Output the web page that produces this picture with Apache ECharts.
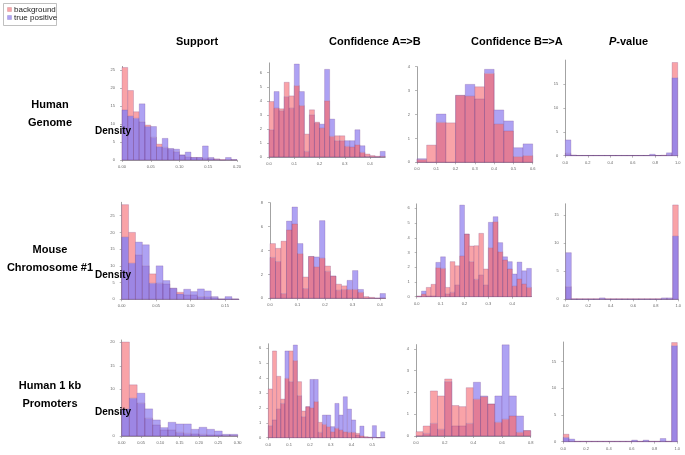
<!DOCTYPE html>
<html><head><meta charset="utf-8">
<script src="https://cdn.jsdelivr.net/npm/echarts@6/dist/echarts.min.js"></script>
<style>html,body{margin:0;padding:0;background:#fff}#c{width:685px;height:455px}</style>
</head><body><div id="c"></div>
<script>
// ---------- labels ----------
const columnTitles = ['Support', 'Confidence A=>B', 'Confidence B=>A', 'P-value'];
const rowTitles = [['Human', 'Genome'], ['Mouse', 'Chromosome #1'], ['Human 1 kb', 'Promoters']];
const seriesNames = ['background', 'true positive'];
const yAxisName = 'Density';

// ---------- data (density per bin) ----------
// Row 1: Human Genome
const hgSupportBin = 0.01;
const hgSupportBg = [25.7, 19.3, 13.4, 10.6, 9.7, 6.3, 4.4, 3.5, 3.0, 2.3, 1.4, 0.9, 0.7, 0.7, 0.5, 0.4, 0.3, 0.1, 0.1, 0.1];
const hgSupportTp = [13.9, 12.2, 11.6, 15.6, 9.3, 9.3, 3.7, 6.0, 3.2, 3.0, 1.4, 2.2, 0.7, 0.7, 3.9, 0.7, 0.2, 0.0, 0.7, 0.1];
const hgConfABBin = 0.02;
const hgConfABBg = [3.95, 3.48, 3.43, 5.32, 4.35, 5.08, 3.66, 1.63, 3.36, 2.48, 2.06, 4.00, 1.47, 1.51, 1.51, 0.76, 0.71, 0.87, 0.33, 0.21, 0.10, 0.05, 0.05];
const hgConfABTp = [1.94, 4.66, 3.30, 4.30, 3.48, 6.62, 4.66, 0.40, 3.00, 2.41, 2.34, 6.24, 2.70, 1.16, 1.16, 1.16, 1.16, 1.94, 0.80, 0.05, 0.00, 0.00, 0.40];
const hgConfBABin = 0.05;
const hgConfBABg = [0.12, 0.72, 1.67, 1.65, 2.80, 2.77, 3.16, 3.72, 1.60, 1.31, 0.24, 0.28];
const hgConfBATp = [0.15, 0.00, 2.02, 0.00, 2.80, 3.26, 2.65, 3.89, 2.19, 1.73, 0.61, 0.77];
const hgPvalBin = 0.05;
const hgPvalBg = [0.5, 0.1, 0.05, 0.05, 0.05, 0.05, 0.05, 0.05, 0.05, 0.05, 0.05, 0.05, 0.05, 0.05, 0.05, 0.05, 0.05, 0.1, 0.2, 19.5];
const hgPvalTp = [3.3, 0.1, 0.05, 0.05, 0.05, 0.05, 0.05, 0.05, 0.05, 0.05, 0.05, 0.05, 0.05, 0.05, 0.05, 0.3, 0.05, 0.05, 0.6, 16.3];

// Row 2: Mouse Chromosome #1
const mcSupportBin = 0.01;
const mcSupportBg = [28.3, 20.0, 13.3, 10.0, 7.6, 4.8, 4.6, 3.3, 2.1, 1.3, 1.3, 0.8, 0.8, 0.5, 0.1, 0.0, 0.1];
const mcSupportTp = [18.6, 10.8, 17.1, 16.3, 4.8, 10.0, 5.6, 3.3, 1.6, 3.0, 2.3, 3.1, 2.5, 0.8, 0.1, 0.8, 0.1];
const mcConfABBin = 0.02;
const mcConfABBg = [4.58, 4.18, 4.78, 5.72, 6.22, 3.74, 1.78, 3.50, 2.64, 3.36, 2.70, 1.86, 1.18, 1.04, 0.74, 0.74, 0.50, 0.14, 0.08, 0.02, 0.02];
const mcConfABTp = [3.42, 3.08, 0.40, 6.46, 7.64, 4.58, 0.82, 3.50, 3.46, 6.50, 2.26, 1.86, 0.68, 0.74, 1.50, 2.32, 0.74, 0.00, 0.00, 0.00, 0.40];
const mcConfBABin = 0.02;
const mcConfBABg = [0.05, 0.18, 0.63, 0.84, 1.97, 1.92, 0.63, 2.38, 2.10, 2.76, 4.25, 3.44, 3.46, 4.30, 1.88, 3.33, 5.09, 3.05, 2.49, 1.88, 0.72, 1.20, 0.86, 0.63];
const mcConfBATp = [0.00, 0.38, 0.05, 0.05, 2.33, 2.71, 0.20, 0.30, 0.79, 6.22, 4.25, 2.38, 1.18, 1.47, 0.79, 5.05, 5.43, 3.67, 2.71, 2.38, 1.54, 2.35, 1.76, 1.92];
const mcPvalBin = 0.05;
const mcPvalBg = [2.25, 0.1, 0.1, 0.1, 0.1, 0.1, 0.1, 0.1, 0.1, 0.1, 0.1, 0.1, 0.1, 0.1, 0.1, 0.1, 0.1, 0.1, 0.1, 16.8];
const mcPvalTp = [8.3, 0.05, 0.05, 0.05, 0.05, 0.05, 0.25, 0.05, 0.05, 0.05, 0.05, 0.05, 0.05, 0.05, 0.05, 0.05, 0.05, 0.25, 0.25, 11.25];

// Row 3: Human 1 kb Promoters
const hpSupportBin = 0.02;
const hpSupportBg = [20.07, 10.93, 7.00, 3.79, 2.36, 1.29, 1.29, 0.79, 0.57, 0.43, 0.36, 0.21, 0.21, 0.14, 0.14];
const hpSupportTp = [5.79, 8.07, 9.14, 5.79, 3.43, 1.79, 2.93, 2.57, 2.57, 1.43, 1.86, 1.43, 1.07, 0.36, 0.36];
const hpConfABBin = 0.02;
const hpConfABBg = [3.27, 5.82, 4.12, 2.59, 3.98, 5.82, 5.17, 3.76, 1.79, 2.08, 2.01, 2.42, 1.03, 0.89, 0.74, 0.40, 0.63, 0.51, 0.40, 0.36, 0.36, 0.29, 0.13, 0.07, 0.04, 0.02, 0.00, 0.00];
const hpConfABTp = [0.81, 1.19, 1.92, 2.30, 5.82, 3.76, 6.22, 2.82, 1.41, 2.08, 3.91, 3.91, 0.36, 1.52, 1.52, 0.74, 2.30, 1.52, 2.75, 1.92, 1.19, 0.18, 0.78, 0.00, 0.00, 0.81, 0.00, 0.40];
const hpConfBABin = 0.05;
const hpConfBABg = [0.20, 0.46, 2.07, 1.84, 2.62, 1.40, 1.35, 2.22, 1.69, 1.81, 1.47, 0.63, 0.77, 0.92, 0.17, 0.25];
const hpConfBATp = [0.00, 0.12, 0.58, 0.31, 2.50, 0.46, 0.46, 0.58, 2.47, 1.84, 1.47, 1.84, 4.19, 1.84, 0.92, 0.25];
const hpPvalBin = 0.05;
const hpPvalBg = [1.4, 0.1, 0.1, 0.1, 0.1, 0.1, 0.1, 0.1, 0.1, 0.1, 0.1, 0.1, 0.1, 0.1, 0.1, 0.1, 0.1, 0.1, 0.1, 18.6];
const hpPvalTp = [0.8, 0.5, 0.05, 0.05, 0.05, 0.05, 0.05, 0.05, 0.05, 0.05, 0.05, 0.05, 0.3, 0.05, 0.3, 0.05, 0.05, 0.6, 0.05, 18.0];

// ---------- tick labels ----------
const xTicksSupportHG = [0, 0.05, 0.10, 0.15, 0.20];
const xTicksSupportMC = [0, 0.05, 0.10, 0.15];
const xTicksSupportHP = [0, 0.05, 0.10, 0.15, 0.20, 0.25, 0.30];
const xTicksConfAB4 = [0, 0.1, 0.2, 0.3, 0.4];
const xTicksConfAB5 = [0, 0.1, 0.2, 0.3, 0.4, 0.5];
const xTicksConfBA6 = [0, 0.1, 0.2, 0.3, 0.4, 0.5, 0.6];
const xTicksConfBA8 = [0, 0.2, 0.4, 0.6, 0.8];
const xTicksPval = [0, 0.2, 0.4, 0.6, 0.8, 1.0];
const yTicks25 = [0, 5, 10, 15, 20, 25];
const yTicks20 = [0, 5, 10, 15, 20];
const yTicks15 = [0, 5, 10, 15];
const yTicks6 = [0, 1, 2, 3, 4, 5, 6];
const yTicks4 = [0, 1, 2, 3, 4];
const yTicks8 = [0, 2, 4, 6, 8];

// ---------- panels (layout separate from data) ----------
const panels = [
  {bin: hgSupportBin, bg: hgSupportBg, tp: hgSupportTp, xt: xTicksSupportHG, yt: yTicks25, dec: 2, kind: 's', xMax: 0.2, yMax: 26, box: [122, 66.4, 115, 93.6]},
  {bin: hgConfABBin, bg: hgConfABBg, tp: hgConfABTp, xt: xTicksConfAB4, yt: yTicks6, dec: 1, kind: 'c', xMax: 0.46, yMax: 6.7, box: [269, 62.9, 116.2, 94.1]},
  {bin: hgConfBABin, bg: hgConfBABg, tp: hgConfBATp, xt: xTicksConfBA6, yt: yTicks4, dec: 1, kind: 'c', xMax: 0.6, yMax: 4, box: [417, 66.7, 115.7, 95.6]},
  {bin: hgPvalBin, bg: hgPvalBg, tp: hgPvalTp, xt: xTicksPval, yt: yTicks15, dec: 1, kind: 's', xMax: 1, yMax: 20, box: [565.3, 60.1, 112.4, 95.6]},
  {bin: mcSupportBin, bg: mcSupportBg, tp: mcSupportTp, xt: xTicksSupportMC, yt: yTicks25, dec: 2, kind: 's', xMax: 0.17, yMax: 29, box: [121.7, 202.3, 117.1, 97]},
  {bin: mcConfABBin, bg: mcConfABBg, tp: mcConfABTp, xt: xTicksConfAB4, yt: yTicks8, dec: 1, kind: 'c', xMax: 0.42, yMax: 8, box: [270, 202.7, 115.5, 95.6]},
  {bin: mcConfBABin, bg: mcConfBABg, tp: mcConfBATp, xt: xTicksConfAB4, yt: yTicks6, dec: 1, kind: 'c', xMax: 0.48, yMax: 6.3, box: [416.7, 203.9, 114.7, 92.8]},
  {bin: mcPvalBin, bg: mcPvalBg, tp: mcPvalTp, xt: xTicksPval, yt: yTicks15, dec: 1, kind: 's', xMax: 1, yMax: 17, box: [565.7, 203.8, 112.6, 95.5]},
  {bin: hpSupportBin, bg: hpSupportBg, tp: hpSupportTp, xt: xTicksSupportHP, yt: yTicks20, dec: 2, kind: 's', xMax: 0.3, yMax: 20.5, box: [121.7, 340, 116, 96]},
  {bin: hpConfABBin, bg: hpConfABBg, tp: hpConfABTp, xt: xTicksConfAB5, yt: yTicks6, dec: 1, kind: 'c', xMax: 0.56, yMax: 6.3, box: [268.3, 343.8, 116.5, 93.9]},
  {bin: hpConfBABin, bg: hpConfBABg, tp: hpConfBATp, xt: xTicksConfBA8, yt: yTicks4, dec: 1, kind: 'c', xMax: 0.8, yMax: 4.2, box: [416, 344.6, 114.7, 91.4]},
  {bin: hpPvalBin, bg: hpPvalBg, tp: hpPvalTp, xt: xTicksPval, yt: yTicks15, dec: 1, kind: 's', xMax: 1, yMax: 18.7, box: [563.3, 342, 114, 99.7]}
];

// ---------- colours ----------
const PINK = '#f9a3a8';
const PURPLE = '#aea2f3';
const OVER_S = '#9d86e4';   // purple drawn over pink
const OVER_C = '#e27d97';   // pink drawn over purple
const EDGE = 'rgba(110,60,130,0.45)';
const AXIS = '#8c8c8c';

function makeRender(overColor) {
  return function (params, api) {
    const x0 = api.value(0), x1 = api.value(1), bg = api.value(2), tp = api.value(3);
    const bl = api.coord([x0, 0]);
    const br = api.coord([x1, 0]);
    const yBg = api.coord([x0, bg])[1];
    const yTp = api.coord([x0, tp])[1];
    const base = bl[1];
    const w = br[0] - bl[0];
    const yLo = Math.max(yBg, yTp);
    const yHi = Math.min(yBg, yTp);
    const ch = [];
    if (base - yLo > 0.01) ch.push({type: 'rect', shape: {x: bl[0], y: yLo, width: w, height: base - yLo}, style: {fill: overColor}});
    if (yLo - yHi > 0.01) ch.push({type: 'rect', shape: {x: bl[0], y: yHi, width: w, height: yLo - yHi}, style: {fill: bg > tp ? PINK : PURPLE}});
    ch.push({type: 'rect', shape: {x: bl[0], y: yBg, width: w, height: base - yBg}, style: {fill: null, stroke: EDGE, lineWidth: 0.5}});
    ch.push({type: 'rect', shape: {x: bl[0], y: yTp, width: w, height: base - yTp}, style: {fill: null, stroke: EDGE, lineWidth: 0.5}});
    return {type: 'group', children: ch};
  };
}

const grids = [], xAxes = [], yAxes = [], series = [];
panels.forEach((p, i) => {
  grids.push({left: p.box[0], top: p.box[1], width: p.box[2], height: p.box[3], containLabel: false});
  xAxes.push({
    gridIndex: i, type: 'value', min: 0, max: p.xMax, offset: 2,
    axisLine: {show: true, lineStyle: {color: AXIS, width: 0.8}},
    axisTick: {show: true, length: 2, lineStyle: {color: AXIS, width: 0.6}, customValues: p.xt},
    axisLabel: {show: true, fontSize: 4, color: '#666', margin: 3, customValues: p.xt,
      formatter: v => Number(v).toFixed(p.dec)},
    splitLine: {show: false}
  });
  yAxes.push({
    gridIndex: i, type: 'value', min: 0, max: p.yMax, offset: 4,
    axisLine: {show: true, lineStyle: {color: AXIS, width: 0.8}},
    axisTick: {show: true, length: 2, lineStyle: {color: AXIS, width: 0.6}, customValues: p.yt},
    axisLabel: {show: true, fontSize: 4, color: '#666', margin: 3, customValues: p.yt},
    splitLine: {show: false}
  });
  const data = p.bg.map((v, k) => [+(k * p.bin).toFixed(4), +((k + 1) * p.bin).toFixed(4), v, p.tp[k]]);
  series.push({
    type: 'custom', xAxisIndex: i, yAxisIndex: i, z: 2,
    renderItem: makeRender(p.kind === 's' ? OVER_S : OVER_C),
    encode: {x: [0, 1], y: [2, 3]},
    data: data, silent: true, animation: false, clip: false
  });
});

// text elements
const colCenters = [176, 329, 471, 609];
const rowCenters = [114, 259, 395];
const densityY = [131, 275, 412];
const graphics = [];
columnTitles.forEach((t, i) => {
  const isP = t.startsWith('P-');
  graphics.push({
    type: 'text', left: colCenters[i], top: 36, z: 50,
    style: isP ? {
      text: '{i|P}{b|-value}', x: 0, y: 0, align: 'center',
      rich: {i: {fontSize: 11, fontWeight: 'bold', fontStyle: 'italic', fontFamily: 'Liberation Sans', fill: '#000'},
             b: {fontSize: 11, fontWeight: 'bold', fontFamily: 'Liberation Sans', fill: '#000'}}
    } : {text: t, fontSize: 11, fontWeight: 'bold', fontFamily: 'Liberation Sans', fill: '#000', align: 'center'}
  });
});
rowTitles.forEach((lines, i) => {
  graphics.push({
    type: 'text', x: 50, y: rowCenters[i], z: 50,
    style: {text: lines.join('\n'), fontSize: 11, fontWeight: 'bold', fontFamily: 'Liberation Sans', fill: '#000',
            align: 'center', verticalAlign: 'middle', lineHeight: 18}
  });
  graphics.push({
    type: 'text', x: 95, y: densityY[i], z: 50,
    style: {text: yAxisName, fontSize: 10, fontWeight: 'bold', fontFamily: 'Liberation Sans', fill: '#000',
            align: 'left', verticalAlign: 'middle'}
  });
});
// legend box
graphics.push({type: 'rect', z: 50, shape: {x: 3.5, y: 3.5, width: 53, height: 22}, style: {fill: '#fff', stroke: '#b0b0b0', lineWidth: 0.8}});
graphics.push({type: 'rect', z: 51, shape: {x: 7.5, y: 7.5, width: 4, height: 4}, style: {fill: PINK, stroke: '#c98a8e', lineWidth: 0.4}});
graphics.push({type: 'rect', z: 51, shape: {x: 7.5, y: 15.5, width: 4, height: 4}, style: {fill: PURPLE, stroke: '#8e84d0', lineWidth: 0.4}});
graphics.push({type: 'text', z: 51, x: 14, y: 9.5, style: {text: seriesNames[0], fontSize: 8, fontFamily: 'Liberation Sans', fill: '#222', verticalAlign: 'middle'}});
graphics.push({type: 'text', z: 51, x: 14, y: 17.5, style: {text: seriesNames[1], fontSize: 8, fontFamily: 'Liberation Sans', fill: '#222', verticalAlign: 'middle'}});

const chart = echarts.init(document.getElementById('c'), null, {renderer: 'canvas'});
chart.setOption({
  animation: false,
  backgroundColor: '#fff',
  grid: grids, xAxis: xAxes, yAxis: yAxes, series: series,
  graphic: graphics
});
</script></body></html>
